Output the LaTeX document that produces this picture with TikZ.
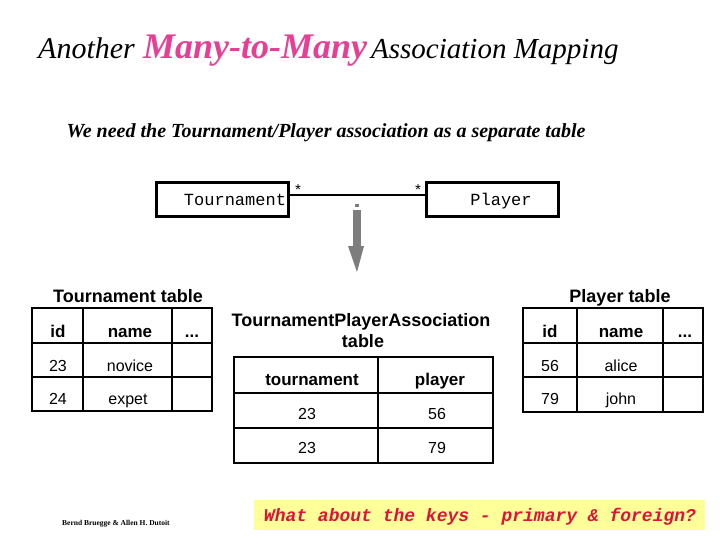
\documentclass[tikz,border=0pt]{standalone}
\usepackage{fontspec}
\setmainfont{Liberation Serif}
\setsansfont{Liberation Sans}
\setmonofont{Liberation Mono}
\definecolor{titlepink}{RGB}{230,64,150}
\definecolor{keyyellow}{RGB}{255,255,153}
\definecolor{keyred}{RGB}{220,20,60}
\definecolor{arrowgray}{RGB}{125,125,125}
\begin{document}
\begin{tikzpicture}[x=1pt,y=-1pt,
  umlbox/.style={draw,line width=3pt,minimum width=#1,minimum height=34pt,inner sep=0pt},
  monotext/.style={anchor=base,inner sep=0pt,font=\fontsize{17}{17}\ttfamily},
  tabline/.style={line width=2.8pt},
  headtext/.style={anchor=base,inner sep=0pt,font=\fontsize{17}{17}\sffamily\bfseries},
  celltext/.style={anchor=base,inner sep=0pt,font=\fontsize{16}{16}\sffamily},
  tabtitle/.style={anchor=base,inner sep=0pt,font=\fontsize{18}{18}\sffamily\bfseries}]
\useasboundingbox[fill=white] (0,0) rectangle (720,540);

% title
\node[anchor=base west,inner sep=0pt,font=\fontsize{30}{30}\itshape] (t1) at (38,59) {Another};
\node[anchor=base west,inner sep=0pt,font=\fontsize{36}{36}\bfseries\itshape,text=titlepink] (t2) at (143,59) {Many-to-Many};
\node[anchor=base west,inner sep=0pt,font=\fontsize{29}{29}\itshape] (t3) at (371,59) {Association Mapping};

% subtitle
\node[anchor=base,inner sep=0pt,font=\fontsize{20}{20}\bfseries\itshape] (sub) at (326,138) {We need the Tournament/Player association as a separate table};

% UML classes
\node[umlbox=132pt] (tour) at (222,200) {};
\node[monotext] (tourtxt) at (235,206) {Tournament};
\node[umlbox=132pt] (play) at (492,200) {};
\node[monotext] (playtxt) at (501,206) {Player};
\draw[line width=2.5pt] ([yshift=5pt]tour.east) -- ([yshift=5pt]play.west);
\node[monotext,font=\fontsize{15}{15}\ttfamily] (s1) at (298,196) {*};
\node[monotext,font=\fontsize{15}{15}\ttfamily] (s2) at (418,196) {*};

% gray arrow
\fill[arrowgray] (355,204) rectangle (359,207);
\fill[arrowgray] (353,210) rectangle (361,247);
\fill[arrowgray] (348,246) -- (364,246) -- (357,272) -- cycle;

% Tournament table
\node[tabtitle] (tt) at (128,302) {Tournament table};
\draw[tabline] (32,308) rectangle (212,411);
\draw[tabline] (32,343) -- (212,343) (32,377) -- (212,377) (83,308) -- (83,411) (172,308) -- (172,411);
\node[headtext] (ta1) at (58,337) {id};
\node[headtext] (ta2) at (130,337) {name};
\node[headtext] (ta3) at (192,337) {...};
\node[celltext] (ta4) at (58,371) {23};
\node[celltext] (ta5) at (130,371) {novice};
\node[celltext] (ta6) at (58,404) {24};
\node[celltext] (ta7) at (128,404) {expet};

% Association table
\node[tabtitle] (at1) at (361,326) {TournamentPlayerAssociation};
\node[tabtitle] (at2) at (363,347) {table};
\draw[tabline] (234,357) rectangle (493,463);
\draw[tabline] (234,393) -- (493,393) (234,428) -- (493,428) (378,357) -- (378,463);
\node[headtext] (ab1) at (312,385) {tournament};
\node[headtext] (ab2) at (440,385) {player};
\node[celltext] (ab3) at (307,419) {23};
\node[celltext] (ab4) at (437,419) {56};
\node[celltext] (ab5) at (307,453) {23};
\node[celltext] (ab6) at (437,453) {79};

% Player table
\node[tabtitle] (pt) at (620,302) {Player table};
\draw[tabline] (523,308) rectangle (703,412);
\draw[tabline] (523,343) -- (703,343) (523,377) -- (703,377) (577,308) -- (577,412) (663,308) -- (663,412);
\node[headtext] (pa1) at (550,337) {id};
\node[headtext] (pa2) at (621,337) {name};
\node[headtext] (pa3) at (685,337) {...};
\node[celltext] (pa4) at (550,371) {56};
\node[celltext] (pa5) at (621,371) {alice};
\node[celltext] (pa6) at (550,404) {79};
\node[celltext] (pa7) at (621,404) {john};

% footer
\node[anchor=base west,inner sep=0pt,font=\fontsize{7.5}{7.5}\bfseries] (foot) at (62,525) {Bernd Bruegge \& Allen H. Dutoit};

% keys box
\node[fill=keyyellow,minimum width=451pt,minimum height=30pt,inner sep=0pt] (keys) at (479.5,515) {};
\node[anchor=base,inner sep=0pt,font=\fontsize{18}{18}\ttfamily\bfseries\itshape,text=keyred] (keytxt) at (480,521) {What about the keys - primary \& foreign?};
\end{tikzpicture}
\end{document}
